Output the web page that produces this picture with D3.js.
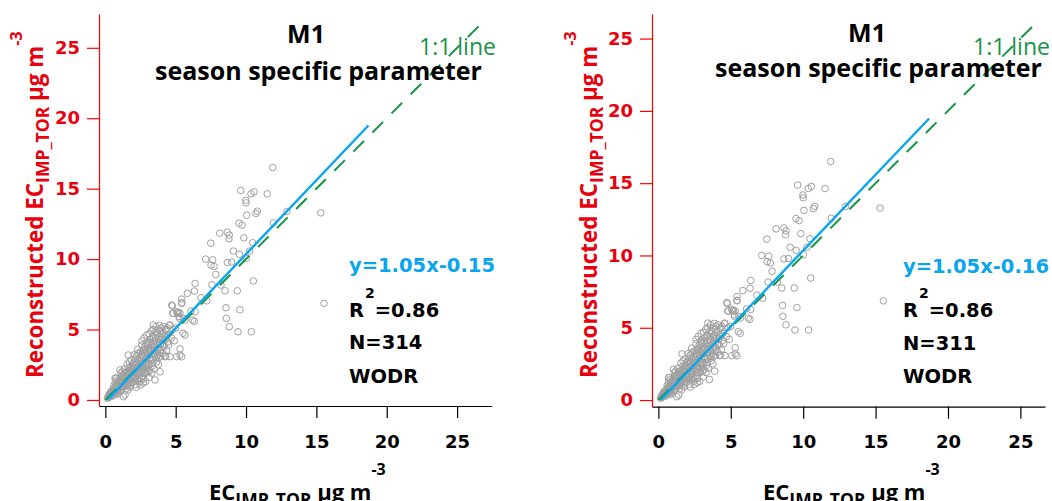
<!DOCTYPE html>
<html>
<head>
<meta charset="utf-8">
<script src="https://cdn.jsdelivr.net/npm/d3@7"></script>
<style>
  html, body { margin: 0; padding: 0; background: #fff; }
  svg { display: block; }
  text { font-family: "Open Sans", sans-serif; }
</style>
</head>
<body>
<div id="chart"></div>
<script>
// ---- data ----
const X_TICKS = [0, 5, 10, 15, 20, 25];
const Y_TICKS = [0, 5, 10, 15, 20, 25];
const X_DOMAINS = [[-0.45, 27.46], [-0.44, 26.7]];
const Y_DOMAINS = [[-0.43, 27.4], [-0.46, 26.7]];
const FIT_SLOPES = [1.05, 1.05];
const FIT_INTERCEPTS = [-0.15, -0.16];
const FIT_X_RANGE = [0.2, 18.7];
const ONE_TO_ONE_END = [26.75, 26.15];
const R2_VALUES = ['0.86', '0.86'];
const N_VALUES = [314, 311];
const TITLE = 'M1';
const SUBTITLE = 'season specific parameter';
const LINE_LABEL = '1:1 line';
const METHOD = 'WODR';

// [EC_IMP_TOR, reconstructed EC], same scatter in both panels
const POINTS = [
  [0.15,0.12],[0.2,0.25],[0.25,0.18],[0.3,0.35],[0.32,0.22],[0.38,0.45],[0.4,0.3],[0.45,0.52],
  [0.48,0.38],[0.5,0.6],[0.52,0.28],[0.35,0.5],[0.42,0.62],[0.28,0.4],[0.55,0.45],
  [0.58,0.7],[0.6,0.5],[0.62,0.85],[0.65,0.6],[0.68,0.42],[0.7,0.9],[0.72,0.75],[0.75,0.55],
  [0.78,1.0],[0.8,0.8],[0.82,0.62],[0.85,1.1],[0.88,0.9],[0.9,0.7],[0.92,1.2],[0.95,0.85],
  [0.98,1.05],[0.6,1.0],[0.7,1.25],[0.8,1.4],[0.9,0.5],[0.85,0.4],[0.75,1.55],[0.69,1.54],
  [1.0,1.3],[1.02,0.95],[1.04,2.13],[1.05,1.15],[1.08,0.7],[1.1,1.45],[1.12,1.0],[1.15,1.25],
  [1.18,1.6],[1.2,0.85],[1.22,1.35],[1.25,1.1],[1.28,0.23],[1.28,1.75],[1.3,1.5],[1.32,0.95],
  [1.35,1.3],[1.38,1.9],[1.4,0.35],[1.4,1.15],[1.42,1.6],[1.45,1.4],[1.48,0.8],[1.5,1.7],
  [1.1,1.9],[1.2,2.0],[1.35,2.2],[1.45,1.0],
  [1.52,1.25],[1.55,2.0],[1.58,1.5],[1.6,1.05],[1.62,1.8],[1.63,3.19],[1.65,2.3],[1.68,1.35],
  [1.7,1.65],[1.72,2.1],[1.75,0.9],[1.78,1.9],[1.8,1.45],[1.82,2.4],[1.85,1.7],[1.88,2.2],
  [1.9,1.2],[1.92,2.0],[1.95,2.6],[1.98,1.55],[2.0,2.3],[1.55,2.55],[1.7,2.7],[1.85,2.85],
  [1.6,0.7],[1.8,1.05],
  [2.02,1.8],[2.05,2.7],[2.08,1.4],[2.1,2.1],[2.12,2.9],[2.15,1.65],[2.18,2.45],[2.2,0.9],
  [2.2,3.1],[2.22,2.0],[2.25,2.6],[2.28,1.5],[2.3,2.3],[2.32,3.3],[2.35,1.85],[2.38,2.75],
  [2.4,2.15],[2.42,3.0],[2.45,1.3],[2.47,1.06],[2.48,2.5],[2.5,3.4],[2.05,3.2],[2.3,3.6],
  [2.15,1.1],[2.4,1.6],
  [2.52,2.0],[2.55,2.8],[2.58,3.1],[2.59,3.9],[2.6,1.7],[2.62,2.4],[2.65,3.5],[2.68,2.15],
  [2.7,3.0],[2.72,1.5],[2.75,2.7],[2.78,3.3],[2.8,2.0],[2.82,3.8],[2.85,2.5],[2.88,3.1],
  [2.9,1.9],[2.92,4.1],[2.94,4.61],[2.95,2.9],[2.98,3.5],[3.0,2.3],[2.6,4.2],[2.75,4.4],
  [2.85,1.3],[2.7,1.2],
  [3.02,3.2],[3.05,4.0],[3.08,2.6],[3.1,3.7],[3.12,4.7],[3.15,2.1],[3.18,3.0],[3.2,4.3],
  [3.22,3.5],[3.25,2.8],[3.28,4.9],[3.3,3.9],[3.32,2.4],[3.35,3.3],[3.38,4.5],[3.4,5.0],
  [3.41,5.32],[3.42,2.9],[3.45,3.7],[3.48,4.2],[3.5,3.1],[3.1,1.6],[3.3,1.9],[3.45,2.2],
  [3.53,1.42],[3.55,4.8],[3.58,3.5],[3.6,5.2],[3.62,4.1],[3.65,2.7],[3.68,3.9],[3.7,4.6],
  [3.72,3.2],[3.75,5.0],[3.78,4.3],[3.8,3.0],[3.82,3.7],[3.85,5.3],[3.88,4.5],[3.89,2.0],
  [3.9,3.4],[3.92,4.9],[3.95,4.0],[3.98,5.1],[4.0,3.6],[4.05,4.7],[4.1,3.3],[4.12,5.2],
  [4.15,4.2],[4.2,3.8],[4.24,3.07],[4.25,4.9],[4.3,4.4],[4.35,3.5],[4.4,5.1],[4.45,4.6],
  [4.5,3.9],[4.55,5.3],[4.6,3.07],[4.29,3.12],[4.72,6.74],[4.79,6.15],[4.83,6.15],[4.6,5.32],
  [4.7,4.4],[4.8,5.0],[4.9,4.2],
  [0.95,1.35],[1.05,0.6],[1.15,1.7],[1.25,1.55],[1.33,1.05],[1.47,1.95],[1.57,1.2],[1.67,2.05],
  [1.73,1.45],[1.83,1.25],[1.93,2.35],[2.03,1.6],[2.13,2.3],[2.23,1.8],[2.27,2.85],[2.33,1.4],
  [2.43,2.4],[2.53,2.6],[2.57,1.5],[2.63,3.2],[2.67,1.9],[2.73,2.4],[2.77,3.6],[2.83,2.2],
  [2.87,3.4],[2.93,2.6],[2.97,3.9],[3.03,2.0],[3.07,3.4],[3.13,2.5],[3.17,4.1],[3.23,3.0],
  [3.27,3.6],[3.33,4.4],[3.37,2.6],[3.43,4.0],[3.47,3.3],[3.57,4.4],[3.63,3.0],[3.67,4.8],
  [3.73,3.6],[3.77,2.5],[3.83,4.1],[3.93,3.1],[4.03,4.3],[4.13,3.9],[4.23,4.5],[4.33,5.0],
  [4.43,4.1],
  [5.07,6.26],[5.12,6.15],[5.19,6.22],[5.24,5.91],[5.26,5.79],[5.31,6.15],[5.43,6.9],[5.43,7.16],
  [5.43,6.86],[5.54,5.79],[5.66,5.67],[5.52,4.73],[5.66,4.61],[5.31,3.62],[5.31,3.19],[5.43,3.07],
  [5.07,3.07],[5.0,5.1],[5.83,7.57],[6.09,6.31],[6.21,5.67],[6.33,5.58],[6.38,8.27],[6.33,7.73],
  [6.38,6.26],[6.8,7.26],[7.21,7.04],[4.76,6.67],
  [11.9,16.5],[9.62,14.87],[10.57,14.77],[10.35,14.63],[11.51,14.63],[9.98,14.18],[10.0,13.99],
  [10.8,13.4],[10.71,13.24],[10.05,13.12],[12.91,13.38],[15.31,13.28],[9.5,12.55],[9.72,12.41],
  [11.94,12.57],[8.13,11.84],[8.67,11.91],[8.81,11.7],[8.79,11.44],[7.49,11.13],[9.84,11.51],
  [10.47,11.16],[9.1,10.57],[9.52,10.35],[10.26,10.57],[7.13,10.0],[7.63,9.95],[7.73,9.48],
  [7.51,9.57],[8.67,9.76],[8.98,9.79],[10.02,10.05],[10.52,8.44],[7.85,8.91],[7.58,8.16],
  [8.22,8.16],[8.51,7.75],[9.38,7.75],[8.58,6.55],[9.57,6.4],[8.6,5.79],[8.81,5.2],[9.43,4.84],
  [10.38,4.84],[15.54,6.86]
];

// ---- layout (pixels) ----
const LAYOUT = [
  { left: 99, right: 491.7, top: 14, bottom: 406,
    title: [306, 43], subtitle: [155, 80], lineLabel: [419, 55],
    stats: [349, 272, 317, 349, 383], yLabel: [43, 378], xLabel: [209, 500] },
  { left: 652, right: 1045, top: 14, bottom: 406.7,
    title: [867, 42], subtitle: [715, 77], lineLabel: [973, 55],
    stats: [903, 273, 317, 350, 383], yLabel: [597, 378], xLabel: [763, 500] }
];

const RED = '#ff0000';
const RED_TEXT = '#e8000e';
const BLUE = '#0aa5ef';
const GREEN = '#189448';
const POINT_GREY = '#a0a0a0';
const DIGIT_FONT = '"DejaVu Sans", sans-serif';

const svg = d3.select('#chart')
  .append('svg')
  .attr('width', 1052)
  .attr('height', 501)
  .attr('viewBox', '0 0 1052 501');

function styleTicks(sel, color) {
  sel.attr('fill', color)
    .style('font-family', DIGIT_FONT)
    .style('font-size', '18px').style('font-weight', 'bold');
}

function drawPanel(i) {
  const L = LAYOUT[i];
  const x = d3.scaleLinear().domain(X_DOMAINS[i]).range([L.left, L.right]);
  const y = d3.scaleLinear().domain(Y_DOMAINS[i]).range([L.bottom, L.top]);
  const g = svg.append('g').attr('class', 'panel');

  // axes
  const gx = g.append('g')
    .attr('transform', `translate(0,${L.bottom})`)
    .call(d3.axisBottom(x).tickValues(X_TICKS).tickSize(12).tickSizeOuter(0).tickPadding(17));
  gx.select('.domain').attr('stroke', '#000').attr('stroke-width', 1.2);
  gx.selectAll('.tick line').attr('stroke', '#000').attr('stroke-width', 1.2);
  styleTicks(gx.selectAll('.tick text'), '#000');

  const gy = g.append('g')
    .attr('transform', `translate(${L.left},0)`)
    .call(d3.axisLeft(y).tickValues(Y_TICKS).tickSize(12).tickSizeOuter(0).tickPadding(7));
  gy.select('.domain').attr('stroke', RED).attr('stroke-width', 1.2);
  gy.selectAll('.tick line').attr('stroke', RED).attr('stroke-width', 1.2);
  styleTicks(gy.selectAll('.tick text'), RED_TEXT);

  // scatter
  g.append('g')
    .selectAll('circle')
    .data(POINTS)
    .enter()
    .append('circle')
    .attr('cx', d => x(d[0]))
    .attr('cy', d => y(d[1]))
    .attr('r', 3.3)
    .attr('fill', 'none')
    .attr('stroke', POINT_GREY)
    .attr('stroke-width', 1);

  const line = d3.line().x(d => x(d[0])).y(d => y(d[1]));

  // 1:1 line
  g.append('path')
    .datum([[0, 0], [ONE_TO_ONE_END[i], ONE_TO_ONE_END[i]]])
    .attr('fill', 'none')
    .attr('stroke', GREEN)
    .attr('stroke-width', 2)
    .attr('stroke-dasharray', '15,12')
    .attr('d', line);

  // fit line
  const slope = FIT_SLOPES[i], icpt = FIT_INTERCEPTS[i];
  g.append('path')
    .datum(FIT_X_RANGE.map(v => [v, slope * v + icpt]))
    .attr('fill', 'none')
    .attr('stroke', BLUE)
    .attr('stroke-width', 2.4)
    .attr('d', line);

  // titles
  g.append('text')
    .attr('x', L.title[0]).attr('y', L.title[1])
    .attr('text-anchor', 'middle')
    .style('font-size', '25px').style('font-weight', 'bold')
    .text(TITLE);
  g.append('text')
    .attr('x', L.subtitle[0]).attr('y', L.subtitle[1])
    .style('font-size', '25px').style('font-weight', 'bold')
    .text(SUBTITLE);
  g.append('text')
    .attr('x', L.lineLabel[0]).attr('y', L.lineLabel[1])
    .attr('fill', GREEN)
    .style('font-size', '23px')
    .text(LINE_LABEL);

  // stats block
  const [sx, eqY, r2Y, nY, mY] = L.stats;
  const stat = (yy) => g.append('text')
    .attr('x', sx).attr('y', yy)
    .style('font-family', DIGIT_FONT)
    .style('font-size', '19.5px').style('font-weight', 'bold');
  stat(eqY).attr('fill', BLUE).text(`y=${slope.toFixed(2)}x${icpt.toFixed(2)}`);
  const r2 = stat(r2Y);
  r2.append('tspan').text('R');
  r2.append('tspan').attr('dx', 1).attr('dy', -19).style('font-size', '14px').text('2');
  r2.append('tspan').attr('dy', 19).text('=' + R2_VALUES[i]);
  stat(nY).text('N=' + N_VALUES[i]);
  stat(mY).text(METHOD);

  // axis titles
  const yl = g.append('text')
    .attr('transform', `translate(${L.yLabel[0]},${L.yLabel[1]})rotate(-90)`)
    .attr('fill', RED_TEXT)
    .style('font-size', '22.4px').style('font-weight', 'bold');
  yl.append('tspan').text('Reconstructed EC');
  yl.append('tspan').attr('dy', 6).style('font-size', '17.5px').text('IMP_TOR');
  yl.append('tspan').attr('dy', -6).text(' \u03bcg m');
  yl.append('tspan').attr('dy', -21).style('font-size', '16px').text('-3');

  const xl = g.append('text')
    .attr('x', L.xLabel[0]).attr('y', L.xLabel[1])
    .attr('fill', '#000')
    .style('font-size', '22px').style('font-weight', 'bold');
  xl.append('tspan').text('EC');
  xl.append('tspan').attr('dy', 6).style('font-size', '17.5px').text('IMP_TOR');
  xl.append('tspan').attr('dy', -6).text(' \u03bcg m');
  xl.append('tspan').attr('dy', -25).style('font-size', '16px').text('-3');
}

LAYOUT.forEach((_, i) => drawPanel(i));
</script>
</body>
</html>
